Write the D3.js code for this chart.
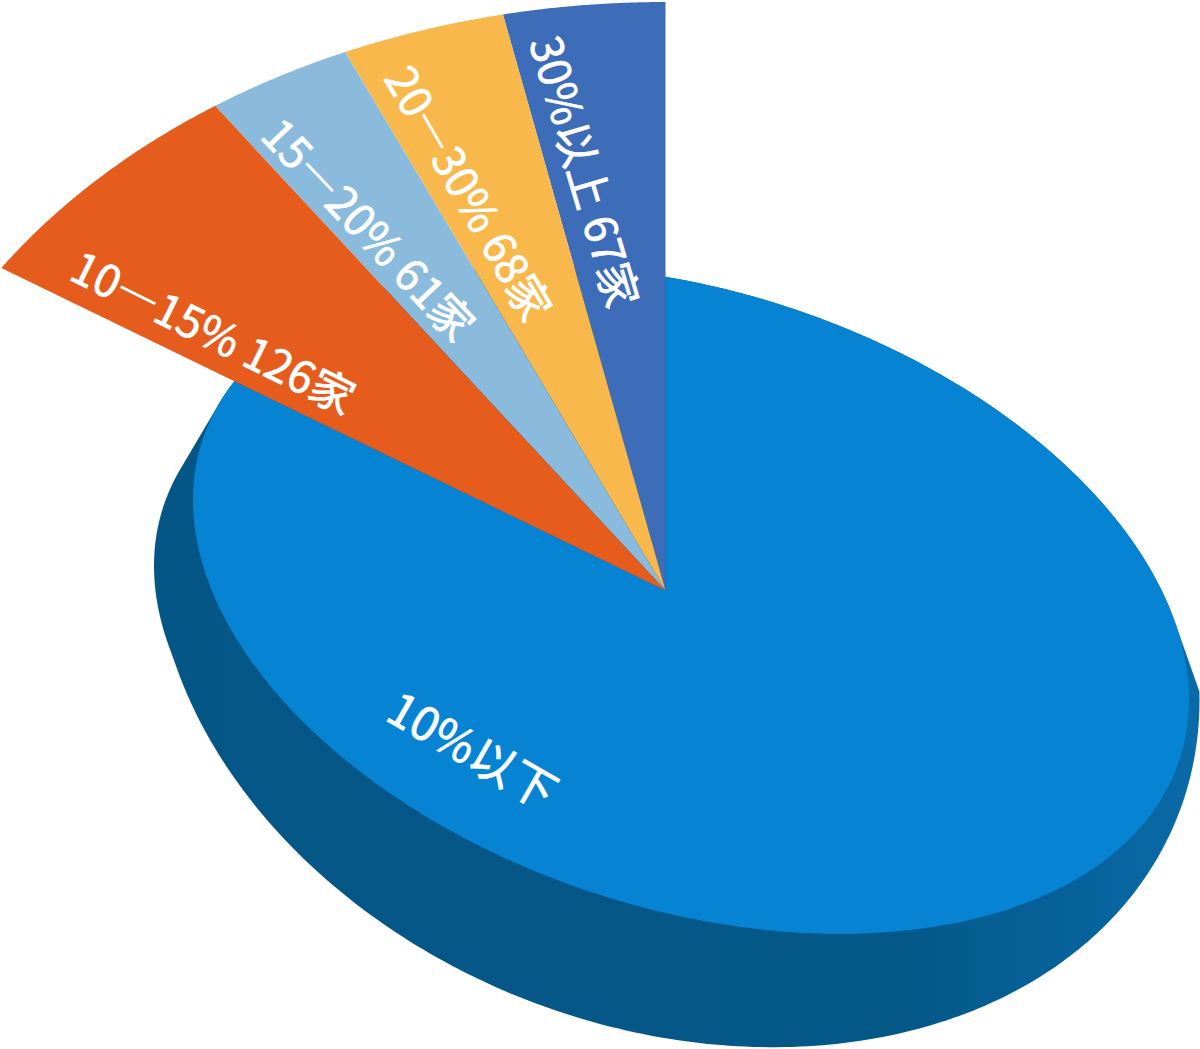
<!DOCTYPE html>
<html lang="zh-CN"><head><meta charset="utf-8">
<script src="https://cdn.jsdelivr.net/npm/d3@7"></script>
<style>html,body{margin:0;padding:0;background:#fff;} svg{display:block} .fw{font-feature-settings:"fwid" 1;}</style>
</head><body>
<svg id="chart" width="1200" height="1049"></svg>
<script>
// ---- data ----
const categories = ["30%以上", "20—30%", "15—20%", "10—15%", "10%以下"];
const counts = [67, 68, 61, 126, 1720];          // 10%以下 not labelled: estimated from its angle
const countLabels = ["67家", "68家", "61家", "126家", ""];

// ---- styles / layout ----
const colors = ["#3d6cb9", "#f9b84b", "#8bbbdc", "#e65c1d", "#0684d3"];
const apex = {x: 665.5, y: 590.5};
const RX = 794, RY = 588.5;                       // outer ring (raised slices)
const topE = {cx: 691, cy: 600, X: 498, m: 100, R: 318.5};   // top face of main slice
const leftE = {cx: 652, cy: 666, X: 498, m: 100, R: 318.5};  // left part of lower rim
const botE = {cx: 677, cy: 622, X: 522.5, m: 78, R: 418};    // bottom/right part of lower rim
const labelShift = [-2.0, -2.1, -1.9, -6.45];     // deg, along ring
const labelTilt = [-5.9, -4, -4.3, -3.7];         // deg
const labelRadius = 0.72;

const svg = d3.select("#chart");
const xs = d3.scaleLinear().domain([-1, 1]).range([apex.x - RX, apex.x + RX]);
const ys = d3.scaleLinear().domain([-1, 1]).range([apex.y - RY, apex.y + RY]);
const ringPt = (a, r) => [xs(r * Math.sin(a)), ys(-r * Math.cos(a))];

const pie = d3.pie().sort(null).value(d => d).startAngle(0).endAngle(-2 * Math.PI);
const arcs = pie(counts);

const ellPt = (E, t) => [E.cx + E.X * Math.cos(t), E.cy + E.m * Math.cos(t) + E.R * Math.sin(t)];
function rayHit(E, a, d) {
  const inv = p => [p[0] / E.X, (p[1] - E.m * p[0] / E.X) / E.R];
  const u0 = inv([a[0] - E.cx, a[1] - E.cy]);
  const v = inv(d);
  const A = v[0] * v[0] + v[1] * v[1], B = u0[0] * v[0] + u0[1] * v[1], C = u0[0] * u0[0] + u0[1] * u0[1] - 1;
  const s = (-B + Math.sqrt(B * B - A * C)) / A;
  return [a[0] + s * d[0], a[1] + s * d[1]];
}

const defs = svg.append("defs");
const g = defs.append("linearGradient").attr("id", "side").attr("gradientUnits", "userSpaceOnUse")
  .attr("x1", 150).attr("y1", 0).attr("x2", 1200).attr("y2", 0);
g.append("stop").attr("offset", 0).attr("stop-color", "#045686");
g.append("stop").attr("offset", 0.72).attr("stop-color", "#045888");
g.append("stop").attr("offset", 1).attr("stop-color", "#0a6aa8");

// side (thickness) of the main slice
const full = n => d3.range(0, n).map(i => i / n * 2 * Math.PI);
const topPts = full(360).map(t => ellPt(topE, t));
const leftPts = full(360).map(t => ellPt(leftE, t));
const botPts = d3.range(0, 201).map(i => ellPt(botE, -0.02 + i / 200 * (Math.PI - 0.1)));
const hull = d3.polygonHull(topPts.concat(leftPts, botPts));
svg.append("path").attr("d", "M" + hull.join("L") + "Z").attr("fill", "url(#side)");

const line = d3.line();
// main slice (10%以下) top face
const big = arcs[4];
const bigPts = [[apex.x, apex.y]].concat(d3.range(0, 401).map(i => {
  const a = big.startAngle + (big.endAngle - big.startAngle) * i / 400;
  return rayHit(topE, [apex.x, apex.y], [RX * Math.sin(a), -RY * Math.cos(a)]);
}));
svg.append("path").attr("d", line(bigPts) + "Z").attr("fill", colors[4]);

// raised slices
arcs.slice(0, 4).forEach((d, i) => {
  const pts = [[apex.x, apex.y]].concat(d3.range(0, 81).map(k =>
    ringPt(d.startAngle + (d.endAngle - d.startAngle) * k / 80, 1)));
  svg.append("path").attr("d", line(pts) + "Z").attr("fill", colors[i]);
});

// labels
const font = "'Noto Sans CJK SC','Noto Sans',sans-serif";
function addLabel(str, x, y, rot, size) {
  const t = svg.append("text")
    .attr("transform", `translate(${x},${y}) rotate(${rot})`)
    .attr("text-anchor", "middle").attr("dominant-baseline", "central")
    .attr("fill", "#fff").attr("stroke", "#fff").attr("stroke-width", 0.8)
    .attr("font-family", font).attr("font-size", size);
  str.split(/(—)/).forEach(part => {
    if (!part) return;
    const ts = t.append("tspan").text(part);
    if (part === "—") ts.attr("class", "fw");
  });
}
arcs.slice(0, 4).forEach((d, i) => {
  const a = (d.startAngle + d.endAngle) / 2 + labelShift[i] * Math.PI / 180;
  const p = ringPt(a, labelRadius);
  const rot = Math.atan2(RY * Math.cos(a), -RX * Math.sin(a)) * 180 / Math.PI + labelTilt[i];
  addLabel(categories[i] + " " + countLabels[i], p[0], p[1], rot, 44);
});
addLabel(categories[4], 474, 748, 29.8, 46);
</script>
</body></html>
